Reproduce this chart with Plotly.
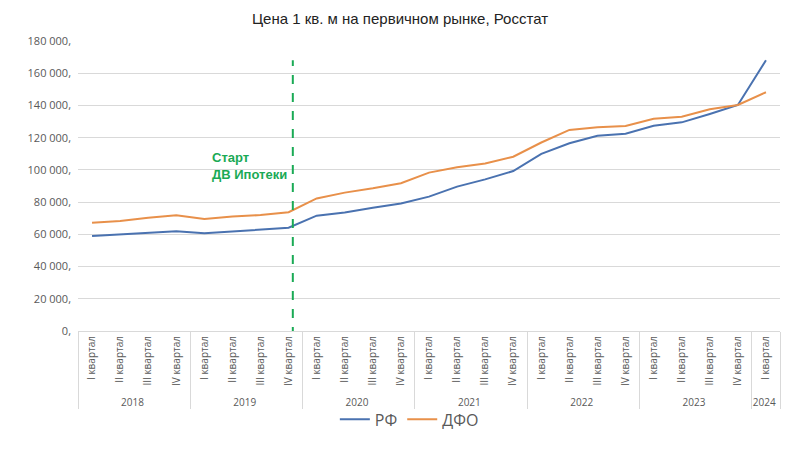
import plotly.graph_objects as go

years = ["2018"]*4 + ["2019"]*4 + ["2020"]*4 + ["2021"]*4 + ["2022"]*4 + ["2023"]*4 + ["2024"]
quarters = ["I квартал", "II квартал", "III квартал", "IV квартал"]*6 + ["I квартал"]

rf = [59000, 60000, 61000, 61900, 60600, 61700, 62700, 64100,
      71600, 73500, 76500, 79200, 83400, 89600, 94100, 99300,
      110000, 116500, 121200, 122500, 127400, 129500, 134700, 140300,
      168000]
dfo = [67200, 68300, 70300, 71800, 69500, 71000, 72000, 73700,
       82300, 85900, 88600, 91700, 98300, 101600, 104000, 108200,
       117000, 124800, 126400, 127200, 131800, 133000, 137600, 140300,
       148200]

y_ticks = list(range(0, 180001, 20000))
y_text = [f"{v:,}".replace(",", " ") + "," for v in y_ticks]
y_text[0] = "0,"

fig = go.Figure()
fig.add_trace(go.Scatter(x=[years, quarters], y=rf, name="РФ", mode="lines",
                         line=dict(color="#4a72b0", width=2)))
fig.add_trace(go.Scatter(x=[years, quarters], y=dfo, name="ДФО", mode="lines",
                         line=dict(color="#e8904a", width=2)))

fig.add_shape(type="line", xref="x", yref="y", x0=7.15, x1=7.15, y0=-25500, y1=168000,
              line=dict(color="#1aaa55", width=2, dash="dash"))
fig.add_annotation(x=4.2, y=102500, xref="x", yref="y", text="<b>Старт<br>ДВ Ипотеки</b>",
                   showarrow=False, xanchor="left", yanchor="middle", align="left",
                   font=dict(family="Liberation Sans", size=13, color="#1aaa55"))

fig.update_layout(
    width=800, height=450,
    margin=dict(l=78, r=20, t=41, b=119),
    paper_bgcolor="white", plot_bgcolor="white",
    title=dict(text="Цена 1 кв. м на первичном рынке, Росстат", x=0.5, xanchor="center",
               y=0.958, yanchor="middle",
               font=dict(family="Liberation Sans", size=15, color="#222222")),
    font=dict(family="Open Sans", color="#595959"),
    showlegend=True,
    legend=dict(orientation="h", x=0.472, xanchor="center", y=-0.305, yanchor="middle",
                itemwidth=30,
                font=dict(size=16, color="#595959"), bgcolor="rgba(0,0,0,0)"),
)
fig.update_yaxes(range=[0, 180000], tickvals=y_ticks, ticktext=y_text,
                 showgrid=True, gridcolor="#d9d9d9", gridwidth=1,
                 zeroline=False, showline=False, ticks="", ticklabelstandoff=6,
                 tickfont=dict(size=11, color="#595959"), automargin=False)
fig.update_xaxes(type="multicategory", range=[-0.5, 24.5], tickangle=-90, showgrid=False,
                 showline=True, linecolor="#d9d9d9",
                 showdividers=True, dividercolor="#d9d9d9", dividerwidth=1,
                 tickfont=dict(size=10, color="#595959"), automargin=False)

fig.write_html("out.html")
